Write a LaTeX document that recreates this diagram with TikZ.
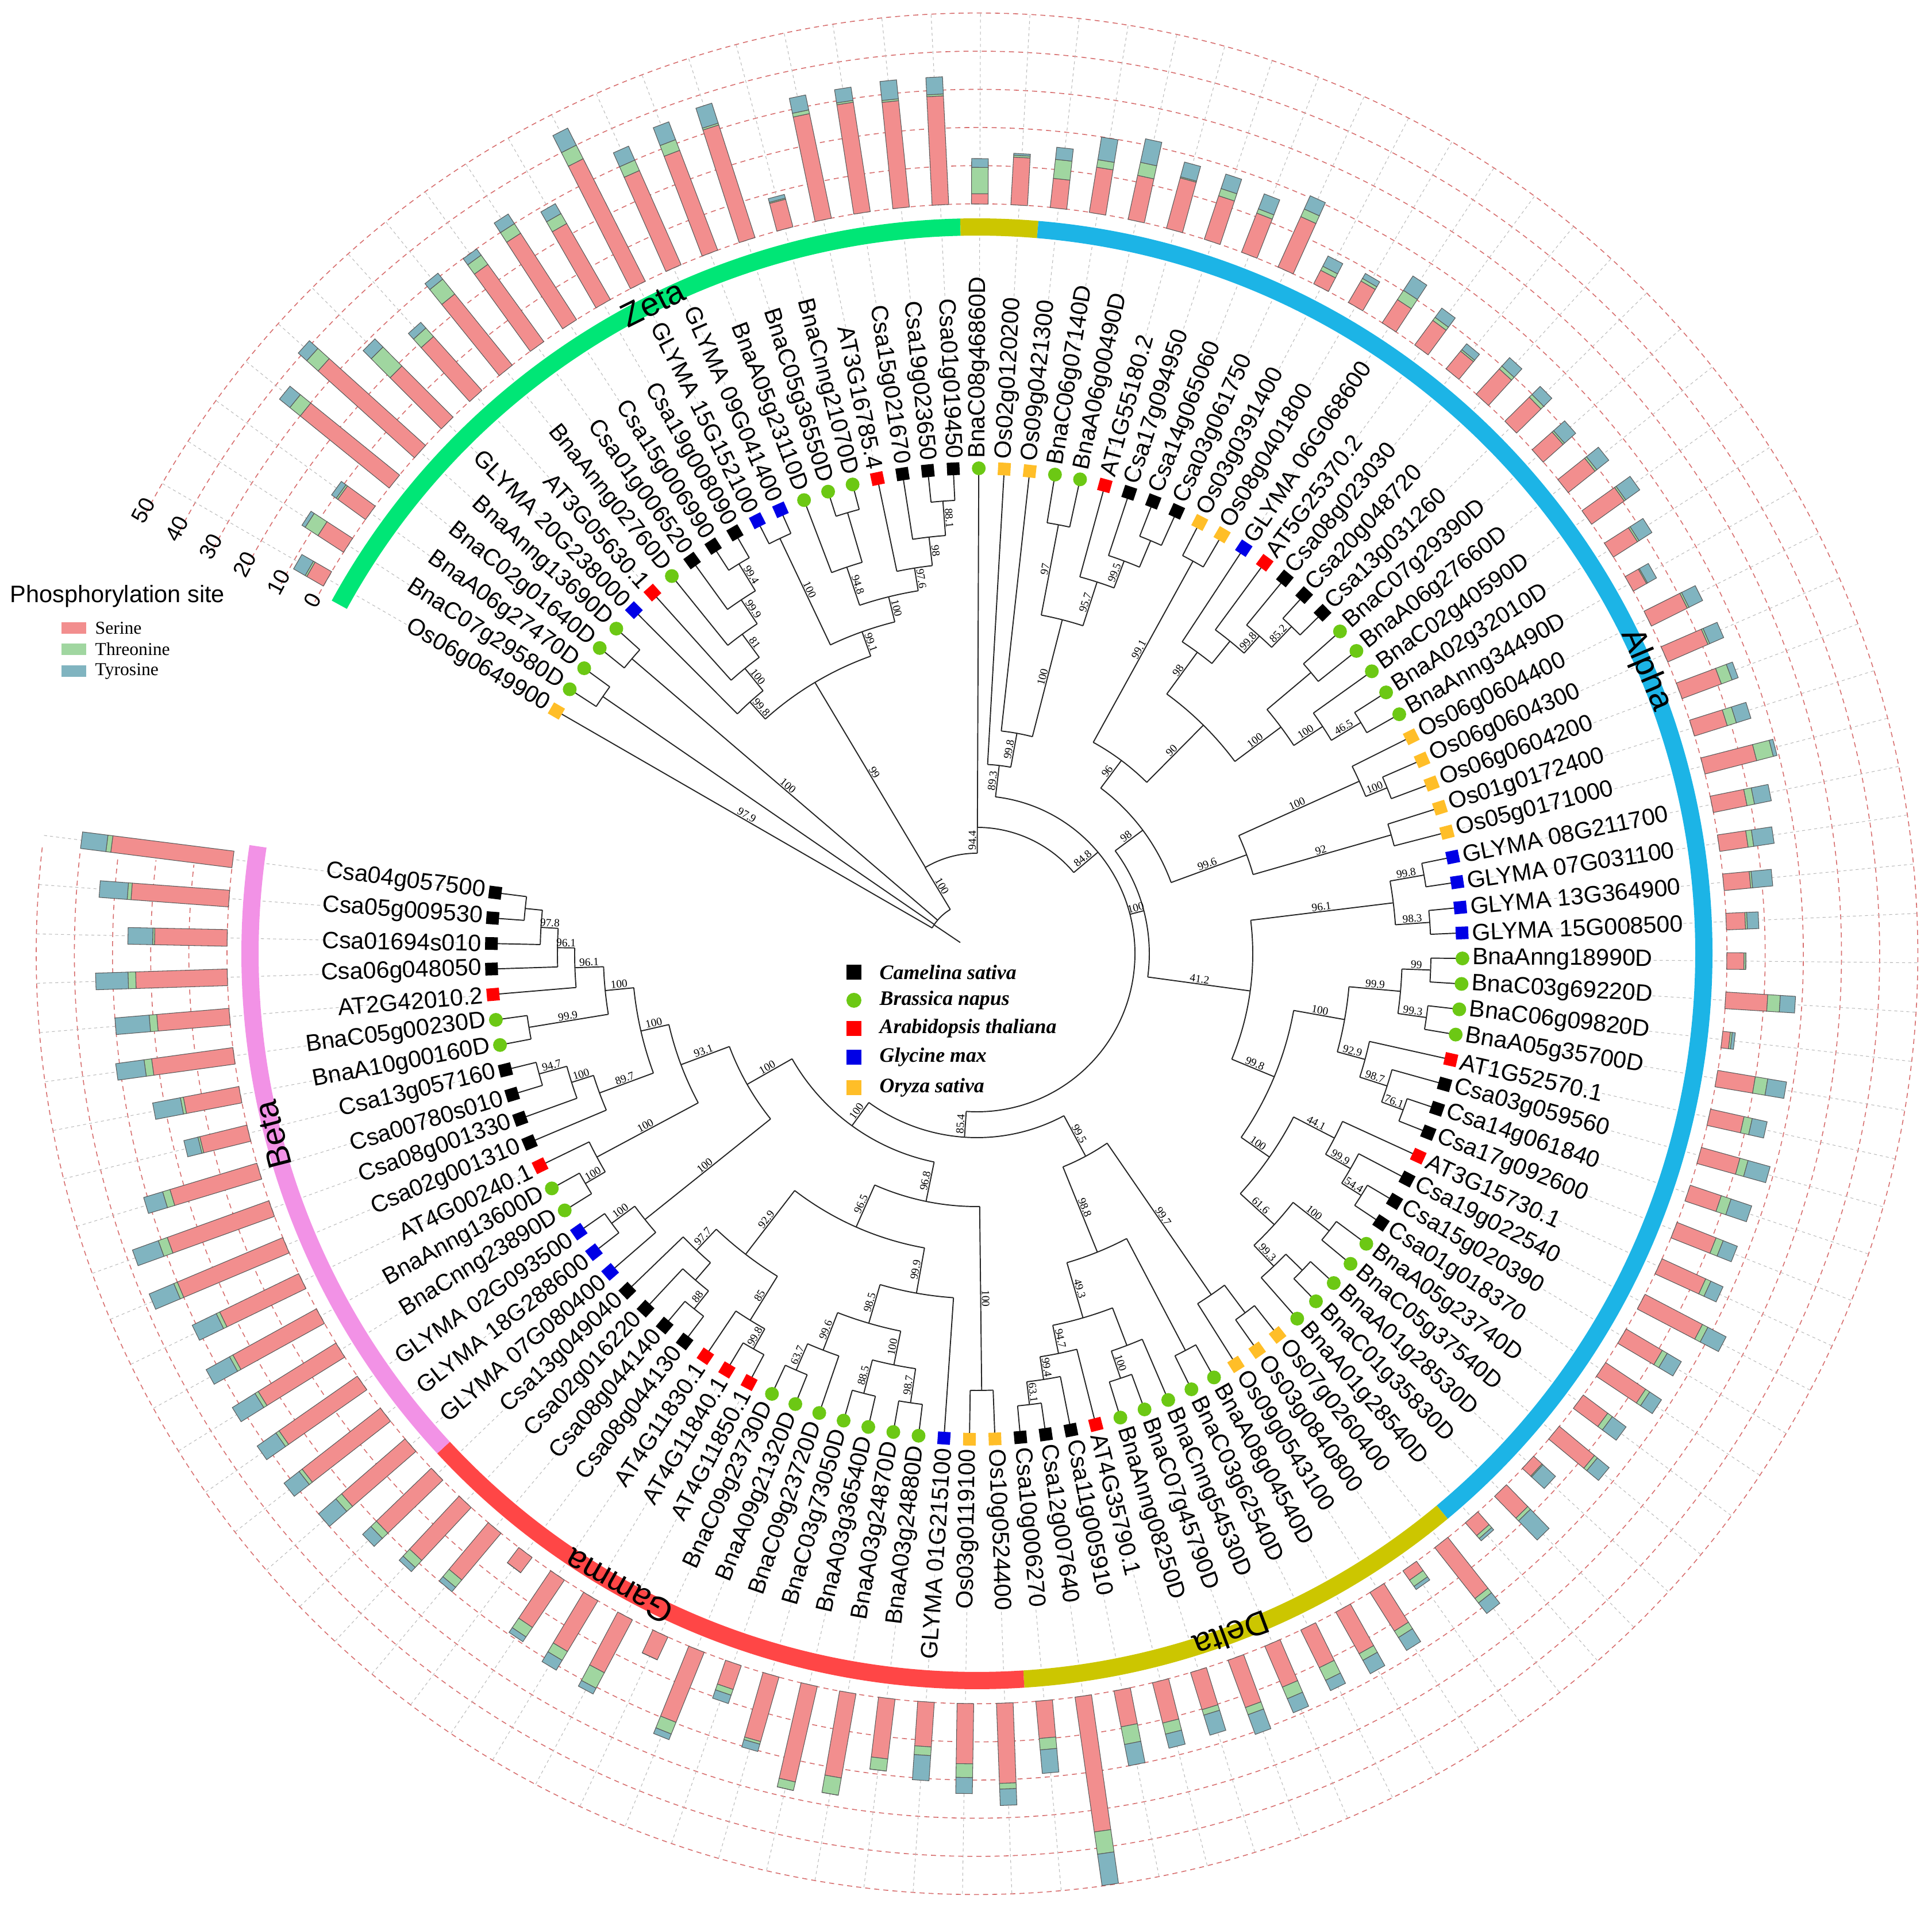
\documentclass[tikz,border=0pt]{standalone}
\usepackage{fontspec}
\setmainfont{Liberation Sans}
\newfontfamily\serifbs{Liberation Serif}
\newlength\lblw
\definecolor{serC}{RGB}{242,142,142}
\definecolor{thrC}{RGB}{160,214,160}
\definecolor{tyrC}{RGB}{128,180,192}
\definecolor{zetaC}{RGB}{0,230,118}
\definecolor{oliveC}{RGB}{204,198,0}
\definecolor{alphaC}{RGB}{28,180,230}
\definecolor{gammaC}{RGB}{255,70,70}
\definecolor{betaC}{RGB}{242,146,230}
\definecolor{braC}{RGB}{108,200,20}
\definecolor{araC}{RGB}{255,0,0}
\definecolor{glyC}{RGB}{0,0,230}
\definecolor{oryC}{RGB}{255,190,40}
\definecolor{gridC}{RGB}{215,110,110}
\newcommand\lblfont{\fontsize{11.7}{13}\selectfont}
\newcommand\bsfont{\serifbs\fontsize{5.5}{6}\selectfont}
\newcommand\BSlab[2]{\expandafter\gdef\csname TB#1\endcsname{#2}}
\newcommand\TNode[4]{%
  \gdef\tnF{}\gdef\tnL{}%
  \foreach \cc in {#3}{\ifx\tnF\empty\xdef\tnF{\cc}\fi\xdef\tnL{\cc}}%
  \edef\aF{\csname TA\tnF\endcsname}%
  \edef\aL{\csname TA\tnL\endcsname}%
  \if\relax\detokenize{#4}\relax\pgfmathsetmacro\aM{(\aF+\aL)/2}\else\edef\aM{#4}\fi
  \pgfmathsetmacro\aS{max(\aF,\aM)}%
  \pgfmathsetmacro\aE{min(\aL,\aM)}%
  \expandafter\xdef\csname TA#1\endcsname{\aM}%
  \expandafter\xdef\csname TR#1\endcsname{#2}%
  \draw[tl] (\aS:#2) arc[start angle=\aS, end angle=\aE, radius=#2];
  \foreach \cc in {#3}{%
    \edef\ca{\csname TA\cc\endcsname}%
    \edef\crr{\csname TR\cc\endcsname}%
    \draw[tl] (\ca:#2) -- (\ca:\crr);
    \ifcsname TB\cc\endcsname
      \pgfmathsetmacro\rmid{(#2+\crr)/2}%
      \pgfmathsetmacro\cosa{cos(\ca)}%
      \ifdim\cosa pt<0pt\def\rot{\ca+180}\else\def\rot{\ca}\fi
      \node[bsl,rotate=\rot] at (\ca:\rmid) {\csname TB\cc\endcsname};%
    \fi}%
}
\def\leafdata{%
1/Os06g0649900/O/5/0.5/3.5,
2/BnaC07g29580D/B/8/4/1,
3/BnaA06g27470D/B/9/0.5/1.5,
4/BnaC02g01640D/B/30/3.5/3.5,
5/BnaAnng13690D/B/34/4/3,
6/GLYMA 20G238000/G/19/7/3,
7/AT3G05630.1/A/19/3/2,
8/BnaAnng02760D/B/24/5/2,
9/Csa01g006520/C/25/3/2,
10/Csa15g006990/C/27/3/3,
11/Csa19g008090/C/23/3/3,
12/GLYMA 15G152100/G/36/4/5,
13/GLYMA 09G041400/G/27/3/4,
14/BnaA05g23110D/B/28/3/5,
15/BnaC05g36550D/B/31/0.5/5.5,
16/BnaCnng21070D/B/7.5/0.3/1,
17/AT3G16785.4/A/28/1/4,
18/Csa15g021670/C/29/0.5/3.5,
19/Csa19g023650/C/28/0.5/5,
20/Csa01g019450/C/28.5/0.5/4.5,
21/BnaC08g46860D/B/2.7/6.9/2.3,
22/Os02g0120200/O/12.5/0.5/0.5,
23/Os09g0421300/O/7.7/5/3.2,
24/BnaC06g07140D/B/12/2/6,
25/BnaA06g00490D/B/11.8/3.5/6.3,
26/AT1G55180.2/A/13.7/0.3/4,
27/Csa17g094950/C/12/2/4,
28/Csa14g065060/C/11/1.2/4.2,
29/Csa03g061750/C/14.5/2.2/3.8,
30/Os03g0391400/O/4/1.2/3,
31/Os08g0401800/O/6.5/0.8/1.5,
32/GLYMA 06G068600/G/7.3/2.9/4.5,
33/AT5G25370.2/A/8/1/3,
34/Csa08g023030/C/6/0.5/2,
35/Csa20g048720/C/9/1/3,
36/Csa13g031260/C/9/1/3,
37/BnaC07g29390D/B/7/0.5/3.9,
38/BnaA06g27660D/B/9/0.6/4,
39/BnaC02g40590D/B/10.5/0.5/4.5,
40/BnaA02g32010D/B/7.5/0.5/4,
41/BnaAnng34490D/B/4/0.3/2.7,
42/Os06g0604400/O/10.5/0.5/4,
43/Os06g0604300/O/11.5/0.5/4,
44/Os06g0604200/O/11/3/1.7,
45/Os01g0172400/O/9/2.5/4,
46/Os05g0171000/O/14/4.5/1,
47/GLYMA 08G211700/G/9/2/4.5,
48/GLYMA 07G031100/G/7.5/1.5/5.4,
49/GLYMA 13G364900/G/7/0.5/5.3,
50/GLYMA 15G008500/G/5/0.5/3,
51/BnaAnng18990D/B/4.5/0.5/0,
52/BnaC03g69220D/B/11/3.3/4,
53/BnaC06g09820D/B/2/0.5/0.8,
54/BnaA05g35700D/B/10/3.3/5,
55/AT1G52570.1/A/9/2.2/4,
56/Csa03g059560/C/10.5/2.2/6,
57/Csa14g061840/C/8.6/2.7/5.7,
58/Csa17g092600/C/11/2/4,
59/AT3G15730.1/A/12.6/1.5/3.5,
60/Csa19g022540/C/17/1.6/5.4,
61/Csa15g020390/C/11/1.5/4.3,
62/Csa01g018370/C/12.6/1.3/3.7,
63/BnaA05g23740D/B/8/1.5/4.5,
64/BnaC05g37540D/B/12/1/4,
65/BnaA01g28530D/B/3/0.3/4.5,
66/BnaC01g35830D/B/8/1/7,
67/BnaA01g28540D/B/4.5/1/0.8,
68/Os07g0260400/O/17/1.5/3.5,
69/Os03g0840800/O/3/2/1,
70/Os09g0543100/O/12/2/4,
71/BnaA08g04540D/B/12.5/2/4,
72/BnaC03g62540D/B/11/3.7/3,
73/BnaCnng54530D/B/11.7/3.3/4,
74/BnaC07g45790D/B/13.2/2/5.5,
75/BnaAnng08250D/B/10.2/1.5/5.5,
76/AT4G35790.1/A/10.9/3/3.8,
77/Csa11g005910/C/9.6/4.7/5.7,
78/Csa12g007640/C/35.7/5.9/8.3,
79/Csa10g006270/C/9.8/3/6.2,
80/Os10g0524400/O/21/1.5/4.3,
81/Os03g0119100/O/15.8/3.6/4.2,
82/GLYMA 01G215100/G/11.7/2.3/6.6,
83/BnaA03g24880D/B/15.8/3.2/0,
84/BnaA03g24870D/B/22.4/4.6/0,
85/BnaA03g36540D/B/25.7/2.3/0,
86/BnaC03g73050D/B/17.6/0.7/2,
87/BnaC09g23720D/B/6.6/1.6/2.3,
88/BnaA09g21320D/B/19.8/3.3/1.6,
89/BnaC09g23730D/B/6.6/0/0,
90/AT4G11850.1/A/15.7/4.6/1.7,
91/AT4G11840.1/A/15.5/2.7/3,
92/AT4G11830.1/A/15/3/1.5,
93/Csa08g044130/C/5/0/0,
94/Csa08g044140/C/16/2.5/1.5,
95/Csa02g016220/C/19/2.5/1.5,
96/Csa13g049040/C/20/2/3,
97/GLYMA 07G080400/G/22/2/6,
98/GLYMA 18G288600/G/26/1/5,
99/GLYMA 02G093500/G/25/1/6,
100/BnaCnng23890D/B/24/1/7,
101/BnaAnng13600D/B/25/1/7,
102/AT4G00240.1/A/23/1/7,
103/Csa02g001310/C/30/1/7,
104/Csa08g001330/C/28.3/2.5/7.2,
105/Csa00780s010/C/23.8/2/5.2,
106/Csa13g057160/C/12.7/0.5/3.8,
107/BnaA10g00160D/B/14.8/0.8/7.4,
108/BnaC05g00230D/B/21.5/2/7.5,
109/AT2G42010.2/A/19/2/9,
110/Csa06g048050/C/24/2/8.5,
111/Csa01694s010/C/19/0.5/6.5,
112/Csa05g009530/C/25.6/1/7.4,
113/Csa04g057500/C/32/1.3/6.7}
\begin{document}
\begin{tikzpicture}[
  tl/.style={draw=black!85,line width=0.55pt,line join=round},
  bsl/.style={font=\bsfont,inner sep=0.4pt,anchor=south},
  lbl/.style={font=\lblfont,inner sep=0pt},
  leader/.style={draw=gray!55,line width=0.3pt,dash pattern=on 1.5pt off 1.5pt},
  gridcirc/.style={draw=gridC,line width=0.45pt,dash pattern=on 2.5pt off 2pt},
  bar/.style={draw=black!65,line width=0.3pt},
  ring/.style={line width=0.3cm},
  grp/.style={font=\fontsize{16.5}{18}\selectfont,inner sep=0pt}]
\useasboundingbox (-17,-16.66) rectangle (16.62,16.60);
% leaf angles
\foreach \i in {1,...,113}{%
  \pgfmathsetmacro\ang{150-(\i-1)*3.011}%
  \expandafter\xdef\csname TA\i\endcsname{\ang}%
  \expandafter\xdef\csname TR\i\endcsname{8.45}}
% dashed circles
\foreach \k in {0,...,5}{%
  \pgfmathsetmacro\rr{13.05+0.664*\k}%
  \draw[gridcirc] (152:\rr) arc[start angle=152,end angle=-186.5,radius=\rr];}
% leader lines and bars
\foreach \i/\nm/\sp/\vS/\vT/\vY in \leafdata {%
  \pgfmathsetmacro\ang{150-(\i-1)*3.011}%
  \settowidth\lblw{\lblfont\nm}%
  \pgfmathsetmacro\rs{8.62+\lblw/28.45274+0.1}%
  \draw[leader] (\ang:\rs) -- (\ang:16.37);
  \pgfmathsetmacro\ra{13.05+\vS*0.0664}%
  \pgfmathsetmacro\rb{\ra+\vT*0.0664}%
  \pgfmathsetmacro\rc{\rb+\vY*0.0664}%
  \begin{scope}[rotate=\ang]
    \filldraw[bar,fill=serC] (13.05,-0.145) rectangle (\ra,0.145);
    \filldraw[bar,fill=thrC] (\ra,-0.145) rectangle (\rb,0.145);
    \filldraw[bar,fill=tyrC] (\rb,-0.145) rectangle (\rc,0.145);
  \end{scope}
}
% group ring
\draw[ring,zetaC] (151.3:12.65) arc[start angle=151.3,end angle=91.3,radius=12.65];
\draw[ring,oliveC] (91.3:12.65) arc[start angle=91.3,end angle=85.2,radius=12.65];
\draw[ring,alphaC] (85.2:12.65) arc[start angle=85.2,end angle=-50.2,radius=12.65];
\draw[ring,oliveC] (-50.2:12.65) arc[start angle=-50.2,end angle=-86.3,radius=12.65];
\draw[ring,gammaC] (-86.3:12.65) arc[start angle=-86.3,end angle=-137.2,radius=12.65];
\draw[ring,betaC] (-137.2:12.65) arc[start angle=-137.2,end angle=-188.5,radius=12.65];
\node[grp,rotate=26.5] (gZeta) at (116.5:12.65) {Zeta};
\node[grp,rotate=-67] (gAlpha) at (23:12.65) {Alpha};
\node[grp,rotate=-159.5] (gDelta) at (-69.5:12.65) {Delta};
\node[grp,rotate=150.5] (gGamma) at (-119.5:12.65) {Gamma};
\node[grp,rotate=104.4] (gBeta) at (-165.6:12.65) {Beta};
% ---------------- tree ----------------
% Zeta
\TNode{z23}{7.9}{2,3}{}
\TNode{z45}{7.9}{4,5}{}
\TNode{z1011}{7.95}{10,11}{}\BSlab{z1011}{99.4}
\TNode{z911}{7.4}{9,z1011}{}\BSlab{z911}{99.9}
\TNode{z811}{6.9}{8,z911}{}\BSlab{z811}{81}
\TNode{z711}{6.4}{7,z811}{}\BSlab{z711}{100}
\TNode{z611}{5.9}{6,z711}{}\BSlab{z611}{99.8}
\TNode{z1213}{8.0}{12,13}{}\BSlab{z1213}{100}
\TNode{z1516}{8.0}{15,16}{}
\TNode{z1416}{7.1}{14,z1516}{}\BSlab{z1416}{94.8}
\TNode{z1920}{7.9}{19,20}{}\BSlab{z1920}{88.1}
\TNode{z1820}{7.3}{18,z1920}{}\BSlab{z1820}{98}
\TNode{z1720}{6.8}{17,z1820}{}\BSlab{z1720}{97.6}
\TNode{z1420}{6.4}{z1416,z1720}{}\BSlab{z1420}{100}
\TNode{z1220}{5.95}{z1213,z1420}{}\BSlab{z1220}{99.1}
\TNode{ZB}{5.5}{z611,z1220}{}
% top
\TNode{t2425}{7.6}{24,25}{}\BSlab{t2425}{97}
\TNode{t2829}{7.8}{28,29}{}
\TNode{t2729}{7.3}{27,t2829}{}\BSlab{t2729}{99.5}
\TNode{t2629}{6.8}{26,t2729}{}\BSlab{t2629}{95.7}
\TNode{t2429}{6.0}{t2425,t2629}{}\BSlab{t2429}{100}
\TNode{t2329}{3.9}{23,t2429}{}\BSlab{t2329}{99.8}
\TNode{t2229}{3.3}{22,t2329}{}
% Alpha upper
\TNode{a3031}{7.8}{30,31}{}
\TNode{a3536}{7.9}{35,36}{}\BSlab{a3536}{85.2}
\TNode{a3436}{7.4}{34,a3536}{}\BSlab{a3436}{99.8}
\TNode{a3336}{7.0}{33,a3436}{}
\TNode{a3236}{6.5}{32,a3336}{}\BSlab{a3236}{98}
\TNode{a3738}{7.6}{37,38}{}
\TNode{a4041}{7.8}{40,41}{}\BSlab{a4041}{46.5}
\TNode{a3941}{7.2}{39,a4041}{}\BSlab{a3941}{100}
\TNode{a3741}{6.6}{a3738,a3941}{}\BSlab{a3741}{100}
\TNode{a3241}{5.6}{a3236,a3741}{}\BSlab{a3241}{90}\BSlab{a3031}{99.1}
\TNode{a3041}{4.2}{a3031,a3241}{}
\TNode{a4344}{7.7}{43,44}{}\BSlab{a4344}{100}
\TNode{a4244}{7.3}{42,a4344}{}\BSlab{a4244}{100}
\TNode{a4546}{7.5}{45,46}{}\BSlab{a4546}{92}
\TNode{a4246}{5.0}{a4244,a4546}{}\BSlab{a3041}{96}\BSlab{a4246}{99.6}
\TNode{AU}{3.6}{a3041,a4246}{}
% Alpha lower
\TNode{a4748}{7.9}{47,48}{}\BSlab{a4748}{99.8}
\TNode{a4950}{7.9}{49,50}{}\BSlab{a4950}{98.3}
\TNode{a4750}{7.3}{a4748,a4950}{}\BSlab{a4750}{96.1}
\TNode{a5152}{7.9}{51,52}{}\BSlab{a5152}{99}
\TNode{a5354}{7.9}{53,54}{}\BSlab{a5354}{99.3}
\TNode{a5154}{7.4}{a5152,a5354}{}\BSlab{a5154}{99.9}
\TNode{a5758}{7.9}{57,58}{}\BSlab{a5758}{76.1}
\TNode{a5658}{7.5}{56,a5758}{}\BSlab{a5658}{98.7}
\TNode{a5558}{7.0}{55,a5658}{}\BSlab{a5558}{92.9}
\TNode{a5158}{6.5}{a5154,a5558}{}\BSlab{a5158}{100}
\TNode{a6162}{7.9}{61,62}{}\BSlab{a6162}{54.4}
\TNode{a6062}{7.5}{60,a6162}{}\BSlab{a6062}{99.9}
\TNode{a5962}{7.0}{59,a6062}{}\BSlab{a5962}{44.1}
\TNode{a6364}{7.8}{63,64}{}\BSlab{a6364}{100}
\TNode{a6566}{7.9}{65,66}{}
\TNode{a6567}{7.5}{a6566,67}{}\BSlab{a6567}{99.3}
\TNode{a6367}{7.0}{a6364,a6567}{}\BSlab{a6367}{61.6}
\TNode{a5967}{6.2}{a5962,a6367}{}\BSlab{a5967}{100}
\TNode{a5167}{5.6}{a5158,a5967}{}\BSlab{a5167}{99.8}
\TNode{AL}{4.8}{a4750,a5167}{}\BSlab{AU}{98}\BSlab{AL}{41.2}
\TNode{A0}{3.0}{AU,AL}{}
% Delta
\TNode{d6869}{7.8}{68,69}{}
\TNode{d6870}{7.2}{d6869,70}{}\BSlab{d6870}{99.7}
\TNode{d7879}{7.9}{78,79}{}\BSlab{d7879}{63.1}
\TNode{d7779}{7.5}{77,d7879}{}\BSlab{d7779}{99.4}
\TNode{d7679}{7.1}{76,d7779}{}\BSlab{d7679}{94.7}
\TNode{d7475}{7.8}{74,75}{}\BSlab{d7475}{100}
\TNode{d7375}{7.3}{73,d7475}{}
\TNode{d7379}{6.6}{d7375,d7679}{}\BSlab{d7379}{49.3}
\TNode{d7172}{7.8}{71,72}{}
\TNode{d7179}{5.6}{d7172,d7379}{}\BSlab{d7179}{98.8}
\TNode{D0}{4.0}{d6870,d7179}{}\BSlab{D0}{99.5}
% Gamma
\TNode{g8081}{7.6}{80,81}{}\BSlab{g8081}{100}
\TNode{g8384}{7.9}{83,84}{}\BSlab{g8384}{98.7}
\TNode{g8586}{7.9}{85,86}{}\BSlab{g8586}{88.5}
\TNode{g8386}{7.3}{g8384,g8586}{}\BSlab{g8386}{100}
\TNode{g8889}{7.9}{88,89}{}\BSlab{g8889}{63.7}
\TNode{g8789}{7.4}{87,g8889}{}\BSlab{g8789}{99.6}
\TNode{g8389}{6.7}{g8386,g8789}{}\BSlab{g8389}{98.5}
\TNode{g8289}{6.0}{82,g8389}{}\BSlab{g8289}{99.9}
\TNode{g9091}{7.9}{90,91}{}\BSlab{g9091}{99.8}
\TNode{g9092}{7.5}{g9091,92}{}\BSlab{g9092}{85}
\TNode{g9394}{7.9}{93,94}{}\BSlab{g9394}{88}
\TNode{g9395}{7.5}{g9394,95}{}
\TNode{g9396}{7.1}{g9395,96}{}\BSlab{g9396}{97.7}
\TNode{g9096}{6.6}{g9092,g9396}{}\BSlab{g9096}{92.9}
\TNode{g8296}{5.2}{g8289,g9096}{}\BSlab{g8296}{96.5}
\TNode{G0}{4.4}{g8081,g8296}{}\BSlab{G0}{96.8}
% Beta
\TNode{b9899}{7.9}{98,99}{}\BSlab{b9899}{100}
\TNode{b9799}{7.4}{97,b9899}{}\BSlab{b9799}{100}
\TNode{b100101}{7.9}{100,101}{}\BSlab{b100101}{100}
\TNode{b100102}{7.5}{b100101,102}{}\BSlab{b100102}{100}
\TNode{b105106}{7.9}{105,106}{}\BSlab{b105106}{94.7}
\TNode{b104106}{7.4}{104,b105106}{}\BSlab{b104106}{100}
\TNode{b103106}{7.0}{103,b104106}{}\BSlab{b103106}{89.7}
\TNode{b107108}{7.9}{107,108}{}\BSlab{b107108}{99.9}
\TNode{b112113}{7.9}{112,113}{}
\TNode{b111113}{7.6}{111,b112113}{}\BSlab{b111113}{97.8}
\TNode{b110113}{7.3}{110,b111113}{}\BSlab{b110113}{96.1}
\TNode{b109113}{7.0}{109,b110113}{}\BSlab{b109113}{96.1}
\TNode{b107113}{6.5}{b107108,b109113}{}\BSlab{b107113}{100}
\TNode{b103113}{6.0}{b103106,b107113}{}\BSlab{b103113}{100}
\TNode{b100113}{5.5}{b100102,b103113}{}\BSlab{b100113}{93.1}
\TNode{B0}{4.6}{b9799,b100113}{}\BSlab{B0}{100}
\TNode{GB}{3.7}{G0,B0}{}\BSlab{GB}{100}
\TNode{M3}{3.2}{D0,GB}{}
% backbone
\BSlab{t2229}{89.3}\BSlab{A0}{100}\BSlab{M3}{85.4}
\TNode{M1}{2.75}{t2229,A0,M3}{40}
\BSlab{M1}{84.8}
\TNode{T0}{2.2}{21,M1}{89.8}
\BSlab{ZB}{99}\BSlab{T0}{94.4}
\TNode{M0}{1.75}{ZB,T0}{121}
\BSlab{1}{97.9}\BSlab{z45}{100}\BSlab{M0}{100}
\TNode{R0}{0.9}{1,z23,z45,M0}{146}
\draw[tl] (146:0.35) -- (146:0.9);
% markers and labels
\foreach \i/\nm/\sp/\vS/\vT/\vY in \leafdata {%
  \pgfmathsetmacro\ang{150-(\i-1)*3.011}%
  \pgfmathsetmacro\cosa{cos(\ang)}%
  \if\sp B\fill[braC] (\ang:8.45) circle (0.12);\else
    \if\sp C\def\mc{black}\fi
    \if\sp A\def\mc{araC}\fi
    \if\sp G\def\mc{glyC}\fi
    \if\sp O\def\mc{oryC}\fi
    \node[fill=\mc,minimum size=0.22cm,inner sep=0pt,rotate=\ang] at (\ang:8.45) {};
  \fi
  \ifdim\cosa pt<0pt
    \node[lbl,rotate=\ang+180,anchor=east] at (\ang:8.62) {\nm};
  \else
    \node[lbl,rotate=\ang,anchor=west] at (\ang:8.62) {\nm};
  \fi
}
% scale labels
\foreach \k/\vv in {0/0,1/10,2/20,3/30,4/40,5/50}{%
  \pgfmathsetmacro\rr{13.1+0.666*\k}%
  \node[font=\fontsize{11}{12}\selectfont,rotate=62,inner sep=0pt] at (152:\rr) {\vv};}
% phosphorylation legend
\node[anchor=west,inner sep=0pt,font=\fontsize{11.8}{13}\selectfont] (ptitle) at (-16.83,6.22) {Phosphorylation site};
\fill[serC] (-15.93,5.57) rectangle (-15.50,5.77);
\fill[thrC] (-15.93,5.20) rectangle (-15.50,5.40);
\fill[tyrC] (-15.93,4.82) rectangle (-15.50,5.02);
\node[anchor=west,inner sep=0pt,font=\serifbs\fontsize{9}{10}\selectfont] (lser) at (-15.35,5.67) {Serine};
\node[anchor=west,inner sep=0pt,font=\serifbs\fontsize{9}{10}\selectfont] (lthr) at (-15.35,5.30) {Threonine};
\node[anchor=west,inner sep=0pt,font=\serifbs\fontsize{9}{10}\selectfont] (ltyr) at (-15.35,4.92) {Tyrosine};
% species legend
\fill[black] (-2.27,-0.45) rectangle (-2.01,-0.19);
\fill[braC] (-2.14,-0.81) circle (0.13);
\fill[araC] (-2.27,-1.43) rectangle (-2.01,-1.17);
\fill[glyC] (-2.27,-1.93) rectangle (-2.01,-1.67);
\fill[oryC] (-2.27,-2.46) rectangle (-2.01,-2.20);
\tikzset{spl/.style={anchor=west,inner sep=0pt,font=\serifbs\bfseries\itshape\fontsize{10.2}{11}\selectfont}}
\node[spl] (s1) at (-1.70,-0.32) {Camelina sativa};
\node[spl] (s2) at (-1.70,-0.81) {Brassica napus};
\node[spl] (s3) at (-1.70,-1.30) {Arabidopsis thaliana};
\node[spl] (s4) at (-1.70,-1.80) {Glycine max};
\node[spl] (s5) at (-1.70,-2.33) {Oryza sativa};
\end{tikzpicture}
\end{document}
